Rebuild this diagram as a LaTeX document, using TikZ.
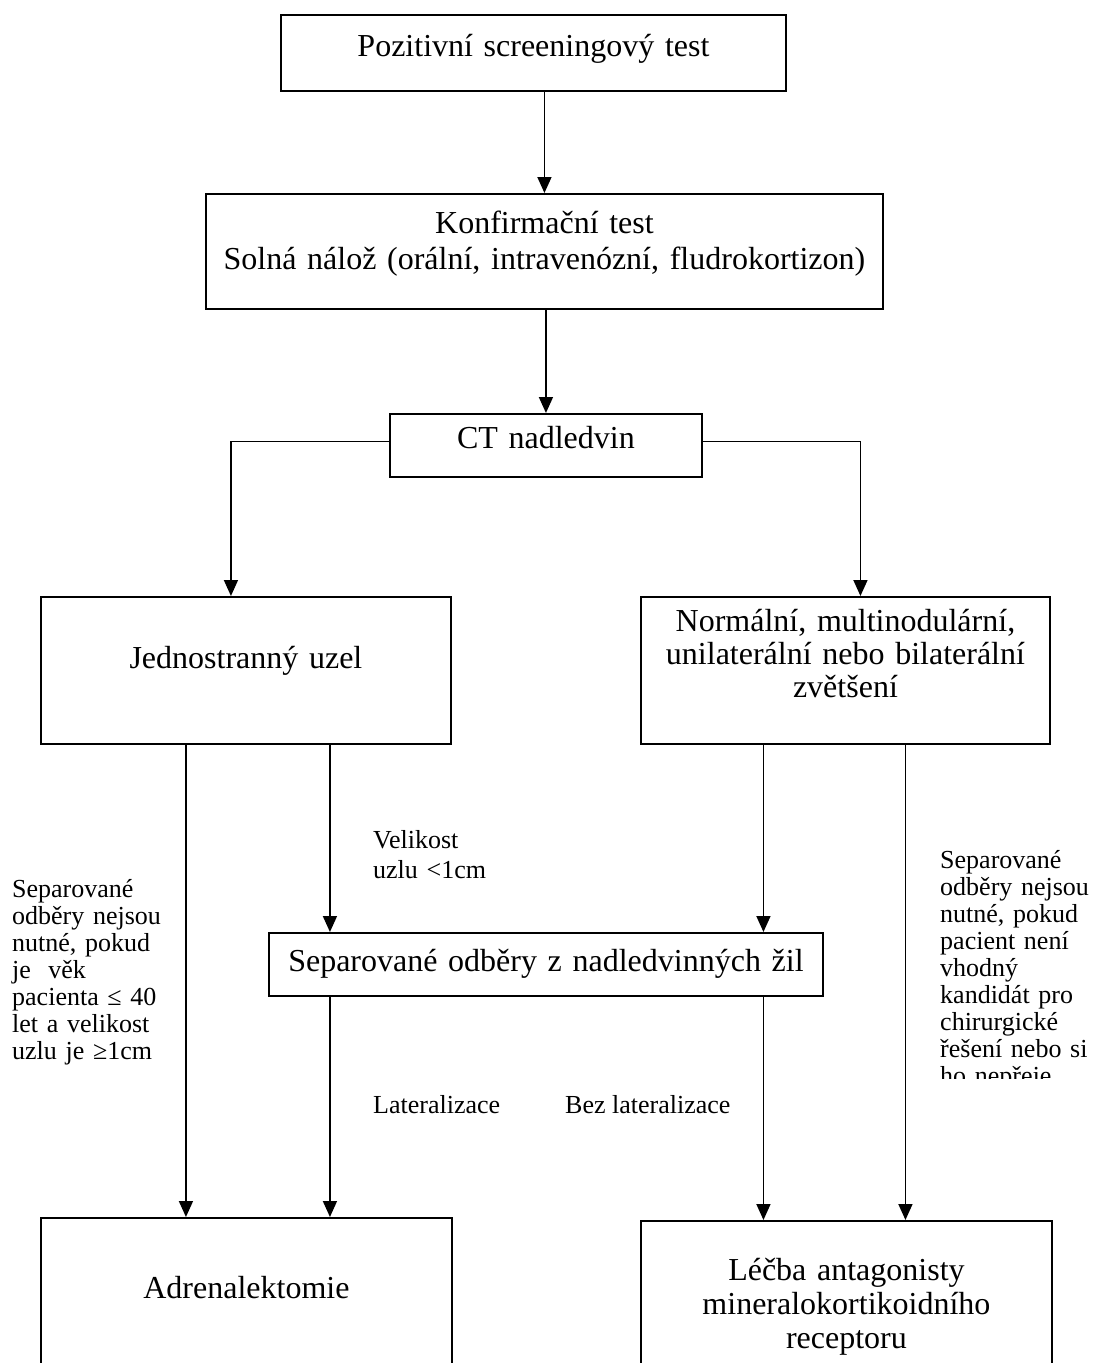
\documentclass[tikz,border=0pt]{standalone}
\usepackage{fontspec}
\setmainfont{Liberation Serif}
\usetikzlibrary{arrows.meta,positioning,calc}

\tikzset{
  box/.style={draw, line width=1.9pt, inner sep=0pt, align=center,
    font=\fontsize{32}{35}\selectfont, anchor=north west},
  note/.style={inner sep=0pt, align=left, font=\fontsize{26}{27}\selectfont,
    anchor=base west},
  arr/.style={line width=1.6pt, -{Triangle[length=16pt,width=14pt]}}
}

\begin{document}
\begin{tikzpicture}[x=1pt,y=-1pt]
\clip (0,0) rectangle (1095,1363);
% boxes
\node[box, text width=505pt, text height=41.5pt, text depth=34.5pt] (screen) at (280,14) {Pozitivní screeningový test};
\node[box, text width=677pt, text height=40pt, text depth=75pt, font=\fontsize{32}{36}\selectfont] (konf) at (205,193) {Konfirmační test\\Solná nálož (orální, intravenózní, fludrokortizon)};
\node[box, text width=312pt, text height=35pt, text depth=28pt] (ct) at (389,413) {CT nadledvin};
\node[box, text width=410pt, text height=72pt, text depth=75pt] (uzel) at (40,596) {Jednostranný uzel};
\node[box, text width=409pt, text height=35pt, text depth=112pt, font=\fontsize{32}{33}\selectfont] (normal) at (640,596) {Normální, multinodulární,\\unilaterální nebo bilaterální\\zvětšení};
\node[box, text width=554pt, text height=39pt, text depth=24pt] (sepodb) at (268,932) {Separované odběry z nadledvinných žil};
\node[box, text width=411pt, text height=81pt, text depth=122pt] (adren) at (40,1217) {Adrenalektomie};
\node[box, text width=411pt, text height=60pt, text depth=140pt, font=\fontsize{32}{34}\selectfont] (lecba) at (640,1220) {Léčba antagonisty\\mineralokortikoidního\\receptoru};
% connectors
\draw[arr] (konf.north |- screen.south) -- (konf.north);
\draw[arr] (konf.south -| ct.north) -- (ct.north);
\draw[arr] ([yshift=4pt]ct.west) -| ([xshift=-15pt]uzel.north);
\draw[arr] ([yshift=4pt]ct.east) -| ([xshift=15pt]normal.north);
\draw[arr] ([xshift=-60pt]uzel.south) -- ([xshift=-60pt]uzel.south |- adren.north);
\draw[arr] ([xshift=84pt]uzel.south) -- ([xshift=84pt]uzel.south |- sepodb.north);
\draw[arr] ([xshift=-82pt]normal.south) -- ([xshift=-82pt]normal.south |- sepodb.north);
\draw[arr] ([xshift=60pt]normal.south) -- ([xshift=60pt]normal.south |- lecba.north);
\draw[arr] ([xshift=84pt]uzel.south |- sepodb.south) -- ([xshift=84pt]uzel.south |- adren.north);
\draw[arr] ([xshift=-82pt]normal.south |- sepodb.south) -- ([xshift=-82pt]normal.south |- lecba.north);
% labels
\node[note, text width=150pt, font=\fontsize{26}{30}\selectfont] (velikost) at (373,848) {Velikost\\uzlu <1cm};
\node[note, text width=175pt] (pozn1) at (12,897) {Separované\\odběry nejsou\\nutné, pokud\\je~ věk\\pacienta ≤ 40\\let a velikost\\uzlu je ≥1cm};
\begin{scope}
\clip (920,840) rectangle (1095,1078);
\node[note, text width=175pt] (pozn2) at (940,868) {Separované\\odběry nejsou\\nutné, pokud\\pacient není\\vhodný\\kandidát pro\\chirurgické\\řešení nebo si\\ho nepřeje};
\end{scope}
\node[note] (lat) at (373,1113) {Lateralizace};
\node[note] (bezlat) at (565,1113) {Bez lateralizace};
\end{tikzpicture}
\end{document}
